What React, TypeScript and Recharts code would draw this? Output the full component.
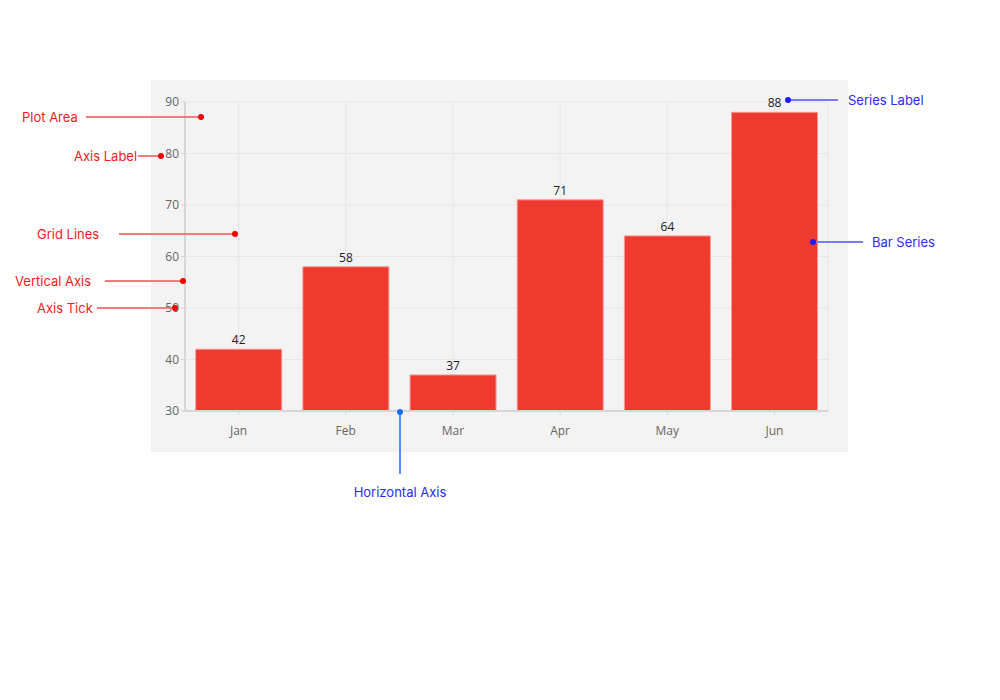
import React from 'react'
import { Bar, BarChart, CartesianGrid, LabelList, XAxis, YAxis } from 'recharts'

// Monthly values shown by the bar series
const months = ['Jan', 'Feb', 'Mar', 'Apr', 'May', 'Jun']
const values = [42, 58, 37, 71, 64, 88]
const yTicks = [30, 40, 50, 60, 70, 80, 90]

const data = months.map((m, i) => ({ month: m, value: values[i] }))

const RED_TEXT = '#f51a1a'
const RED_LINE = '#f47b7b'
const RED_DOT = '#f00000'
const BLUE_TEXT = '#2b2bff'
const BLUE_LINE = '#7a7aff'
const BLUE_DOT = '#1a1aff'

type Callout = { text: string; tx: number; ty: number; x1: number; x2: number; y: number; blue?: boolean }

// Callout labels that point at the parts of the chart
const callouts: Callout[] = [
  { text: 'Plot Area', tx: 22, ty: 117, x1: 86, x2: 201, y: 117 },
  { text: 'Axis Label', tx: 74, ty: 156, x1: 138, x2: 161, y: 156 },
  { text: 'Grid Lines', tx: 37, ty: 234, x1: 119, x2: 235, y: 234 },
  { text: 'Vertical Axis', tx: 15, ty: 281, x1: 105, x2: 183, y: 281 },
  { text: 'Axis Tick', tx: 37, ty: 308, x1: 97, x2: 175, y: 308 },
  { text: 'Series Label', tx: 848, ty: 100, x1: 838, x2: 788, y: 100, blue: true },
  { text: 'Bar Series', tx: 872, ty: 242, x1: 863, x2: 813, y: 242, blue: true },
]

function Annotations() {
  return (
    <svg
      width={1000}
      height={700}
      style={{ position: 'absolute', left: 0, top: 0, pointerEvents: 'none' }}
      fontFamily="Inter, 'Noto Sans', sans-serif"
      fontSize={13}
    >
      {callouts.map((c) => (
        <g key={c.text}>
          <line x1={c.x1} y1={c.y} x2={c.x2} y2={c.y} stroke={c.blue ? BLUE_LINE : RED_LINE} strokeWidth={2} />
          <circle cx={c.x2} cy={c.y} r={3} fill={c.blue ? BLUE_DOT : RED_DOT} />
          <text x={c.tx} y={c.ty} dominantBaseline="central" fill={c.blue ? BLUE_TEXT : RED_TEXT}>
            {c.text}
          </text>
        </g>
      ))}
      {/* horizontal axis callout, vertical leader */}
      <line x1={400} y1={412} x2={400} y2={474} stroke="#1a6cff" strokeWidth={1.5} />
      <circle cx={400} cy={412} r={3} fill="#1a6cff" />
      <text x={400} y={492} textAnchor="middle" dominantBaseline="central" fill={BLUE_TEXT}>
        Horizontal Axis
      </text>
    </svg>
  )
}

export default function App() {
  return (
    <div style={{ position: 'absolute', left: 0, top: 0, width: 1000, height: 700, background: '#fff' }}>
      <div style={{ position: 'absolute', left: 151, top: 80, width: 697, height: 372, background: '#f3f3f3' }} />
      <div style={{ position: 'absolute', left: 0, top: 0 }}>
        <BarChart
          width={1000}
          height={700}
          data={data}
          margin={{ top: 102, right: 172, bottom: 259, left: 155 }}
          barCategoryGap="10%"
          style={{ fontFamily: "'Open Sans', sans-serif" }}
        >
          <CartesianGrid stroke="#e6e6e6" strokeWidth={1} />
          <XAxis
            dataKey="month"
            height={30}
            tickSize={4}
            tickMargin={11}
            tick={{ fill: '#666', fontSize: 12 }}
            tickLine={{ stroke: '#d6d6d6' }}
            axisLine={{ stroke: '#d6d6d6', strokeWidth: 2 }}
          />
          <YAxis
            type="number"
            domain={[30, 90]}
            ticks={yTicks}
            width={30}
            tickSize={4}
            tickMargin={2}
            tick={{ fill: '#666', fontSize: 12 }}
            tickLine={{ stroke: '#d6d6d6' }}
            axisLine={{ stroke: '#d6d6d6', strokeWidth: 2 }}
            allowDataOverflow
          />
          <Bar dataKey="value" fill="#ee3a2f" stroke="#f59a94" strokeWidth={1} isAnimationActive={false}>
            <LabelList dataKey="value" position="top" offset={5} fill="#222" fontSize={12} />
          </Bar>
        </BarChart>
      </div>
      <Annotations />
    </div>
  )
}
